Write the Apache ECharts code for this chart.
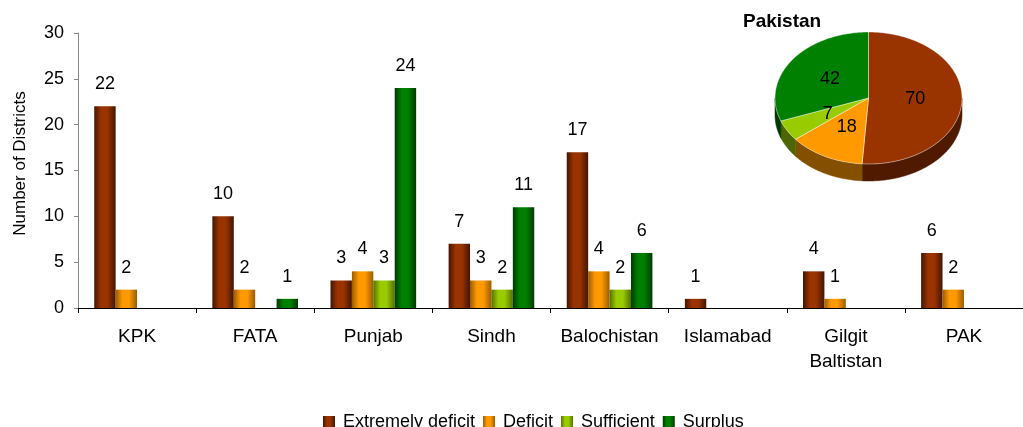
<!DOCTYPE html>
<html>
<head>
<meta charset="utf-8">
<title>Food security status of districts</title>
<script src="https://cdn.jsdelivr.net/npm/echarts@6/dist/echarts.min.js"></script>
<style>
  html, body { margin: 0; padding: 0; background: #ffffff; }
  #chart { width: 1023px; height: 427px; }
</style>
</head>
<body>
<div id="chart"></div>
<script>
// Regions on the category axis
const categories = ['KPK', 'FATA', 'Punjab', 'Sindh', 'Balochistan', 'Islamabad', 'Gilgit\nBaltistan', 'PAK'];

// Number of districts in each status class (null = no district)
const extremelyDeficit = [22, 10, 3, 7, 17, 1, 4, 6];
const deficit          = [2, 2, 4, 3, 4, null, 1, 2];
const sufficient       = [null, null, 3, 2, 2, null, null, null];
const surplus          = [null, 1, 24, 11, 6, null, null, null];

// National totals shown in the inset pie
const pieNames  = ['Extremely deficit', 'Deficit', 'Sufficient', 'Surplus'];
const pieValues = [70, 18, 7, 42];

// Value axis ticks
const yTicks = { min: 0, max: 30, interval: 5 };

// Colours: face colour and shaded edge colour for each class
const faceColors = ['#993300', '#FF9900', '#99CC00', '#008000'];
const edgeColors = ['#431500', '#9a5c00', '#557000', '#003a00'];
const sideColors = ['#4f1a00', '#845000', '#4d6600', '#003800'];

function barGradient(i) {
  return new echarts.graphic.LinearGradient(0, 0, 1, 0, [
    { offset: 0, color: edgeColors[i] },
    { offset: 0.32, color: faceColors[i] },
    { offset: 0.62, color: faceColors[i] },
    { offset: 1, color: edgeColors[i] }
  ]);
}

const seriesData = [extremelyDeficit, deficit, sufficient, surplus];

const barSeries = seriesData.map((values, i) => ({
  name: pieNames[i],
  type: 'bar',
  data: values,
  barGap: '0%',
  barCategoryGap: '27.5%',
  itemStyle: { color: barGradient(i) },
  label: {
    show: true,
    position: 'top',
    distance: 13,
    fontSize: 18,
    color: '#000000',
    fontFamily: 'Liberation Sans, Arial, sans-serif'
  }
}));

// Inset pie geometry (an elliptical top face with a shaded rim)
const PIE = { cx: 868.5, cy: 98, rx: 93.5, ry: 66, depth: 17 };
const pieTotal = pieValues.reduce((a, b) => a + b, 0);
const pieStart = [0];
pieValues.forEach((v, i) => pieStart.push(pieStart[i] + v));

function piePoint(a, dy) {
  return [PIE.cx + PIE.rx * Math.sin(a), PIE.cy - PIE.ry * Math.cos(a) + (dy || 0)];
}

function arcPoints(a0, a1, dy) {
  const pts = [];
  const steps = Math.max(2, Math.ceil((a1 - a0) / (Math.PI / 180)));
  for (let k = 0; k <= steps; k++) {
    pts.push(piePoint(a0 + (a1 - a0) * k / steps, dy));
  }
  return pts;
}

function renderPieSlice(params, api) {
  const i = params.dataIndex;
  const value = api.value(0);
  const a0 = pieStart[i] / pieTotal * Math.PI * 2;
  const a1 = a0 + value / pieTotal * Math.PI * 2;
  const children = [];

  // rim: only the part of the arc facing the viewer
  const s = Math.max(a0, Math.PI / 2);
  const e = Math.min(a1, Math.PI * 1.5);
  if (s < e) {
    const upper = arcPoints(s, e, 0);
    const lower = arcPoints(s, e, PIE.depth).reverse();
    children.push({
      type: 'polygon',
      z2: 1,
      shape: { points: upper.concat(lower) },
      style: { fill: sideColors[i], stroke: sideColors[i], lineWidth: 0.5 }
    });
  }

  // top face
  children.push({
    type: 'polygon',
    z2: 10,
    shape: { points: [[PIE.cx, PIE.cy]].concat(arcPoints(a0, a1, 0)) },
    style: { fill: faceColors[i], stroke: 'rgba(255,255,255,0.55)', lineWidth: 0.8 }
  });

  // value label at half radius along the mid angle
  const mid = (a0 + a1) / 2;
  children.push({
    type: 'text',
    z2: 20,
    x: PIE.cx + 0.5 * PIE.rx * Math.sin(mid),
    y: PIE.cy - 0.5 * PIE.ry * Math.cos(mid),
    style: {
      text: String(value),
      fontSize: 18,
      fontFamily: 'Liberation Sans, Arial, sans-serif',
      fill: '#000000',
      align: 'center',
      verticalAlign: 'middle'
    }
  });

  return { type: 'group', children: children };
}

const chart = echarts.init(document.getElementById('chart'), null, { renderer: 'canvas' });

chart.setOption({
  animation: false,
  backgroundColor: '#ffffff',
  textStyle: { fontFamily: 'Liberation Sans, Arial, sans-serif' },
  title: {
    text: 'Pakistan',
    left: 743,
    top: 12,
    padding: 0,
    textStyle: { fontSize: 19, fontWeight: 'bold', color: '#000000' }
  },
  legend: {
    data: pieNames,
    left: 323,
    top: 413,
    icon: 'rect',
    itemWidth: 12,
    itemHeight: 12,
    itemGap: 8,
    padding: 0,
    selectedMode: false,
    textStyle: { fontSize: 18, color: '#000000', padding: [0, 0, 0, 3] }
  },
  grid: { left: 78, right: -14, top: 33, bottom: 119, containLabel: false },
  xAxis: {
    type: 'category',
    data: categories,
    axisLine: { lineStyle: { color: '#000000', width: 1 } },
    axisTick: { show: true, length: 5, lineStyle: { color: '#000000' } },
    axisLabel: { fontSize: 19, lineHeight: 25, margin: 16, color: '#000000', interval: 0 },
    splitLine: { show: false }
  },
  yAxis: {
    type: 'value',
    min: yTicks.min,
    max: yTicks.max,
    interval: yTicks.interval,
    name: 'Number of Districts',
    nameLocation: 'middle',
    nameRotate: 90,
    nameGap: 49,
    nameTextStyle: { fontSize: 17, color: '#000000', padding: [0, 0, 0, 14] },
    axisLine: { show: true, lineStyle: { color: '#868686', width: 1 } },
    axisTick: { show: true, length: 4, lineStyle: { color: '#868686' } },
    axisLabel: { fontSize: 18, margin: 14, color: '#000000' },
    splitLine: { show: false }
  },
  series: barSeries.concat([{
    type: 'custom',
    coordinateSystem: 'none',
    z: 5,
    silent: true,
    data: pieValues,
    renderItem: renderPieSlice
  }])
});
</script>
</body>
</html>
